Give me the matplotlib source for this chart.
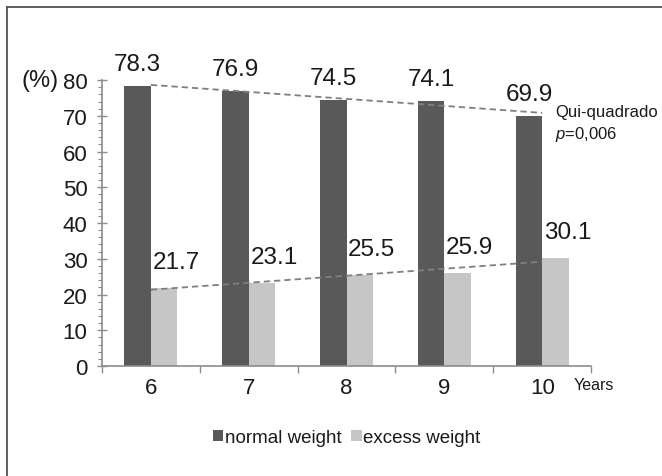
import matplotlib.pyplot as plt
import numpy as np
from matplotlib.lines import Line2D
from matplotlib.ticker import MultipleLocator, FixedLocator

plt.rcParams['font.family'] = ['Liberation Sans', 'DejaVu Sans']
plt.rcParams['mathtext.fontset'] = 'custom'
plt.rcParams['mathtext.rm'] = 'Liberation Sans'
plt.rcParams['mathtext.it'] = 'Liberation Sans:italic'

ages = ['6', '7', '8', '9', '10']
normal_weight = [78.3, 76.9, 74.5, 74.1, 69.9]
excess_weight = [21.7, 23.1, 25.5, 25.9, 30.1]

dark = '#595959'
light = '#c6c6c6'
axis_gray = '#8c8c8c'
txt = '#1a1a1a'

fig = plt.figure(figsize=(6.62, 4.77), dpi=100)
ax = fig.add_axes([0.154, 0.2306, 0.739, 0.5994])

x = np.arange(len(ages))
w = 0.27
ax.bar(x - w / 2, normal_weight, w, color=dark, label='normal weight', zorder=2)
ax.bar(x + w / 2, excess_weight, w, color=light, label='excess weight', zorder=2)

# linear trend lines across category centres
for vals in (normal_weight, excess_weight):
    k, b = np.polyfit(x, vals, 1)
    ax.plot([x[0], x[-1]], [k * x[0] + b, k * x[-1] + b], color='#7f7f7f',
            lw=1.3, ls=(0, (3.5, 2.2)), zorder=3)

for i, v in enumerate(normal_weight):
    ax.annotate(f'{v}', (x[i] - w / 2, v), xytext=(0, 22), textcoords='offset pixels',
                ha='center', va='center', fontsize=17.5, color=txt)
for i, v in enumerate(excess_weight):
    ax.annotate(f'{v}', (x[i] + w / 2, v), xytext=(12, 26), textcoords='offset pixels',
                ha='center', va='center', fontsize=17.5, color=txt)

ax.set_xlim(-0.5, 4.5)
ax.set_ylim(0, 80)
for s in ('top', 'right'):
    ax.spines[s].set_visible(False)
for s in ('left', 'bottom'):
    ax.spines[s].set_color(axis_gray)
    ax.spines[s].set_linewidth(1.2)

ax.yaxis.set_major_locator(MultipleLocator(10))
ax.yaxis.set_minor_locator(MultipleLocator(2))
ax.tick_params(axis='y', which='major', direction='inout', length=7, width=1,
               color=axis_gray, labelsize=16, pad=7, labelcolor=txt)
ax.tick_params(axis='y', which='minor', direction='out', length=3, width=0.8, color=axis_gray)

ax.xaxis.set_major_locator(FixedLocator(np.arange(-0.5, 5, 1)))
ax.xaxis.set_major_formatter(plt.NullFormatter())
ax.xaxis.set_minor_locator(FixedLocator(x))
ax.set_xticklabels(ages, minor=True)
ax.tick_params(axis='x', which='major', direction='out', length=5, width=1, color=axis_gray)
ax.tick_params(axis='x', which='minor', length=0, labelsize=16, pad=8, labelcolor=txt)

ax.annotate('(%)', (0, 1), xycoords='axes fraction', xytext=(-80, 0),
            textcoords='offset pixels', ha='left', va='center', fontsize=17, color=txt)
ax.annotate('Years', (1, 0), xycoords='axes fraction', xytext=(-18, -18),
            textcoords='offset pixels', ha='left', va='center', fontsize=11.5, color=txt)

fig.text(555 / 662, 1 - 113 / 477, 'Qui-quadrado', fontsize=12, va='center', color=txt)
fig.text(555 / 662, 1 - 135 / 477, '$p$=0,006', fontsize=12, va='center', color=txt)

fig.legend(loc='center', bbox_to_anchor=(0.524, 0.080), ncol=2, frameon=False,
           fontsize=13.5, handlelength=0.55, handleheight=0.55, handletextpad=0.1,
           columnspacing=0.5, labelcolor=txt)

# partial frame around the figure (left and top edges)
fig.add_artist(Line2D([7 / 662, 7 / 662], [0, 1 - 8 / 477], transform=fig.transFigure,
                      color='#555555', lw=1.3))
fig.add_artist(Line2D([7 / 662, 1], [1 - 8 / 477, 1 - 8 / 477], transform=fig.transFigure,
                      color='#555555', lw=1.3))

fig.savefig('out.png', dpi=100)
plt.close(fig)
